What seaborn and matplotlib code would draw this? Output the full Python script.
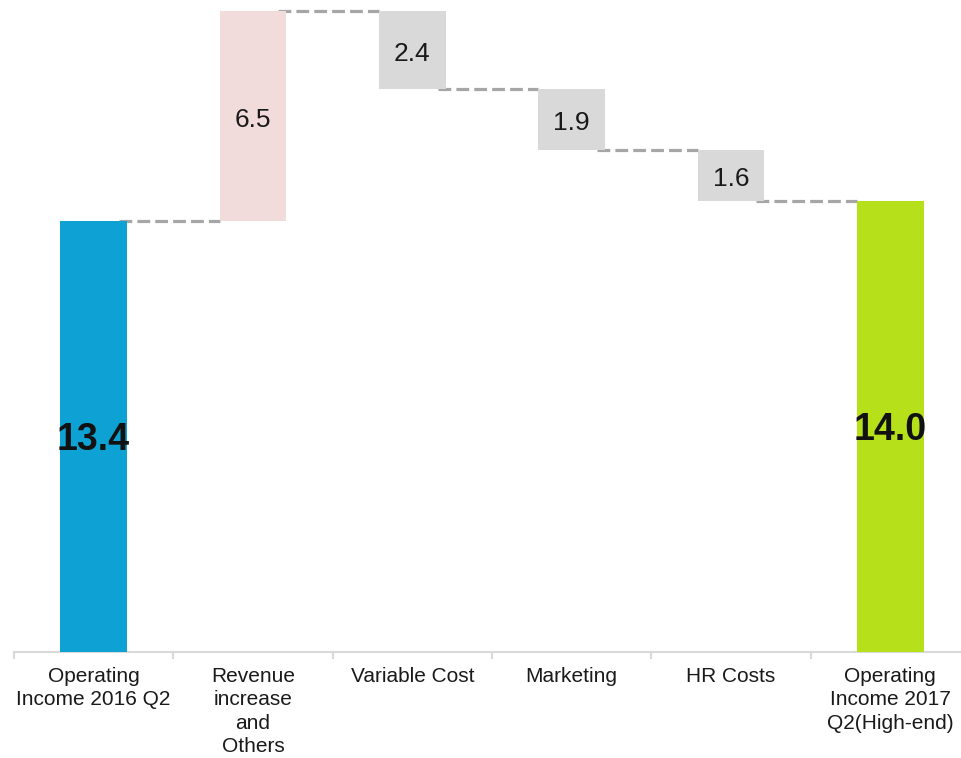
import seaborn as sns
import matplotlib.pyplot as plt
import numpy as np
import pandas as pd

# Data
categories = ["Operating\nIncome 2016 Q2", "Revenue\nincrease\nand\nOthers", "Variable Cost",
              "Marketing", "HR Costs", "Operating\nIncome 2017\nQ2(High-end)"]
values = [13.4, 6.5, -2.4, -1.9, -1.6, 14.0]
kinds = ["total", "up", "down", "down", "down", "total"]

colors = {"total_start": "#0EA1D4", "up": "#F2DCDB", "down": "#D9D9D9", "total_end": "#B5E01A"}

# Running totals for the waterfall
bottoms, heights, levels = [], [], []
running = 0.0
for v, k in zip(values, kinds):
    if k == "total":
        bottoms.append(0.0)
        heights.append(v)
        running = v
    else:
        new = running + v
        bottoms.append(min(running, new))
        heights.append(abs(v))
        running = new
    levels.append(running)

df = pd.DataFrame({"cat": categories, "height": heights, "bottom": bottoms})

sns.set_style("white")
plt.rcParams["font.family"] = ["Liberation Sans", "DejaVu Sans"]

fig = plt.figure(figsize=(9.62, 7.58), dpi=100)
ax = fig.add_axes([14 / 962, 106 / 758, 956 / 962, 652 / 758])

bar_w = 0.42
sns.barplot(data=df, x="cat", y="height", bottom=df["bottom"].to_numpy(),
            color="#D9D9D9", width=bar_w, errorbar=None, ax=ax, zorder=3)

bar_colors = [colors["total_start"], colors["up"], colors["down"], colors["down"],
              colors["down"], colors["total_end"]]
for p, c in zip(ax.patches, bar_colors):
    p.set_facecolor(c)
    p.set_edgecolor("none")

# Connector lines
for i in range(len(values) - 1):
    ax.plot([i + bar_w / 2 - 0.05, i + 1 - bar_w / 2], [levels[i], levels[i]],
            color="#A6A6A6", lw=2.3, linestyle=(0, (4, 1.6)), zorder=2)

# Value labels
for i, (v, k) in enumerate(zip(values, kinds)):
    y = bottoms[i] + heights[i] / 2 - 0.12
    if k == "total":
        ax.text(i, y, f"{abs(v):.1f}", ha="center", va="center",
                fontsize=27, fontweight="bold", color="#111111", zorder=4)
    else:
        ax.text(i, y, f"{abs(v):.1f}", ha="center", va="center",
                fontsize=19, color="#1a1a1a", zorder=4)

ax.set_xlim(-0.5, 5.5)
ax.set_ylim(0, 20.25)
ax.set_xlabel("")
ax.set_ylabel("")
ax.set_yticks([])

for s in ["top", "right", "left"]:
    ax.spines[s].set_visible(False)
ax.spines["bottom"].set_color("#D9D9D9")
ax.spines["bottom"].set_linewidth(1.5)

ax.tick_params(axis="x", which="major", length=0, pad=11, labelsize=15, labelcolor="#1a1a1a")
ax.set_xticks(np.arange(-0.5, 6, 1), minor=True)
ax.tick_params(axis="x", which="minor", length=5, width=1.5, color="#D9D9D9", direction="out",
               bottom=True)
for lab in ax.get_xticklabels():
    lab.set_linespacing(1.28)

fig.savefig("out.png", dpi=100)
